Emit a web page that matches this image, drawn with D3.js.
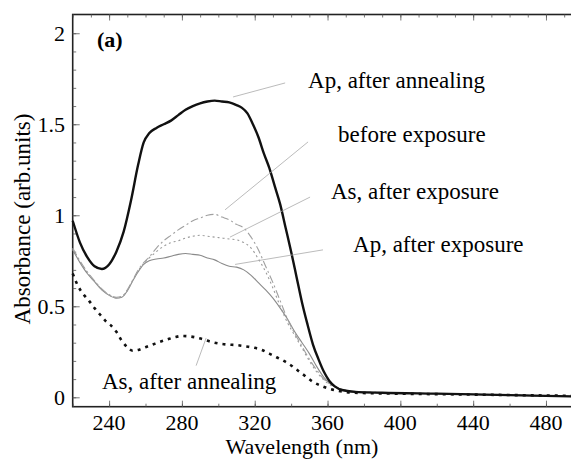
<!DOCTYPE html>
<html>
<head>
<meta charset="utf-8">
<script src="https://cdn.jsdelivr.net/npm/d3@7"></script>
<style>
  body { margin: 0; background: #fff; }
</style>
</head>
<body>
<svg id="chart" width="571" height="459"></svg>
<script>
// -- data -- //
let apAnnealWl = [220, 224, 228, 232, 236, 240, 244, 248, 252, 256, 259, 262, 266, 270, 274, 278, 282, 286, 290, 294, 298, 302, 306, 310, 313, 316, 319, 322, 325, 328, 331, 334, 337, 340, 343, 346, 349, 352, 355, 358, 361, 364, 368, 375, 390, 420, 460, 494];
let apAnnealAbs = [0.97, 0.85, 0.77, 0.72, 0.705, 0.73, 0.80, 0.91, 1.08, 1.28, 1.40, 1.45, 1.48, 1.50, 1.52, 1.55, 1.58, 1.60, 1.615, 1.625, 1.63, 1.625, 1.62, 1.605, 1.59, 1.56, 1.50, 1.43, 1.34, 1.26, 1.16, 1.06, 0.93, 0.80, 0.66, 0.52, 0.40, 0.29, 0.21, 0.14, 0.09, 0.06, 0.04, 0.03, 0.025, 0.02, 0.012, 0.005];

let exposWl = [220, 224, 228, 232, 236, 240, 244, 247, 250, 253, 256, 259, 262, 266, 270, 274, 278, 282, 286, 290, 294, 298, 302, 306, 310, 314, 318, 322, 326, 330, 334, 338, 342, 346, 350, 354, 358, 362, 366, 372, 385, 420, 460, 494];
let beforeAbs = [0.82, 0.75, 0.69, 0.64, 0.595, 0.565, 0.55, 0.555, 0.59, 0.645, 0.70, 0.74, 0.77, 0.82, 0.86, 0.89, 0.92, 0.945, 0.97, 0.985, 1.0, 1.005, 0.99, 0.975, 0.95, 0.93, 0.88, 0.81, 0.72, 0.63, 0.53, 0.43, 0.35, 0.28, 0.21, 0.15, 0.10, 0.07, 0.05, 0.035, 0.028, 0.02, 0.012, 0.005];
let asExposAbs = [0.815, 0.745, 0.685, 0.637, 0.592, 0.562, 0.547, 0.552, 0.588, 0.642, 0.695, 0.735, 0.765, 0.80, 0.83, 0.85, 0.86, 0.875, 0.885, 0.89, 0.885, 0.88, 0.875, 0.87, 0.865, 0.85, 0.82, 0.76, 0.69, 0.60, 0.50, 0.41, 0.34, 0.27, 0.20, 0.14, 0.095, 0.065, 0.05, 0.035, 0.028, 0.02, 0.012, 0.005];
let apExposAbs = [0.81, 0.74, 0.68, 0.635, 0.59, 0.56, 0.545, 0.55, 0.585, 0.64, 0.69, 0.73, 0.75, 0.76, 0.765, 0.775, 0.785, 0.79, 0.785, 0.78, 0.765, 0.755, 0.735, 0.72, 0.715, 0.70, 0.67, 0.63, 0.59, 0.545, 0.49, 0.43, 0.36, 0.30, 0.24, 0.17, 0.11, 0.07, 0.05, 0.035, 0.028, 0.02, 0.012, 0.005];

let asAnnealWl = [220, 223, 226, 229, 232, 235, 238, 241, 244, 247, 250, 253, 256, 260, 264, 268, 272, 276, 280, 284, 288, 292, 296, 300, 305, 310, 315, 320, 324, 328, 332, 336, 340, 344, 348, 352, 356, 360, 366, 375, 400, 440, 494];
let asAnnealAbs = [0.68, 0.61, 0.565, 0.53, 0.49, 0.455, 0.42, 0.395, 0.36, 0.31, 0.275, 0.256, 0.26, 0.275, 0.29, 0.305, 0.318, 0.33, 0.337, 0.335, 0.328, 0.318, 0.305, 0.296, 0.29, 0.287, 0.28, 0.272, 0.26, 0.24, 0.22, 0.20, 0.175, 0.145, 0.115, 0.085, 0.065, 0.05, 0.035, 0.025, 0.02, 0.015, 0.008];

let xTicks = [240, 280, 320, 360, 400, 440, 480];
let yTicks = [0, 0.5, 1, 1.5, 2];
let yTickLabels = ['0', '0.5', '1', '1.5', '2'];

// label text, label anchor (nm, abs), leader line from / to (nm, abs)
let labelNames = ['Ap, after annealing', 'before exposure', 'As, after exposure', 'Ap, after exposure', 'As, after annealing'];
let labelAt = [[349.3, 1.70], [365.8, 1.403], [361.9, 1.09], [374, 0.80], [236.1, 0.046]];
let leaderFrom = [[336.7, 1.727], [349.3, 1.403], [350.4, 1.10], [357.5, 0.81], [287.8, 0.174]];
let leaderTo = [[308.1, 1.65], [303.7, 1.03], [306.4, 0.88], [309.2, 0.73], [293.3, 0.326]];

// -- layout -- //
let svg = d3.select('#chart')
    .style('font-family', "'Liberation Serif', 'Times New Roman', Times, 'DejaVu Serif', serif");
let plotLeft = 72.7, plotRight = 572, plotTop = 14.5, plotBottom = 406.7;

let xScale = d3.scaleLinear().domain([220, 494.3]).range([plotLeft, plotRight]);
let yScale = d3.scaleLinear().domain([-0.0516, 2.103]).range([plotBottom, plotTop]);

// -- frame and ticks -- //
let frame = svg.append('g');
frame.append('rect')
    .attr('x', plotLeft).attr('y', plotTop)
    .attr('width', plotRight - plotLeft).attr('height', plotBottom - plotTop)
    .style('fill', 'none')
    .style('stroke', '#222')
    .style('stroke-width', '1.6');

let xMajor = d3.axisBottom(xScale).tickValues(xTicks).tickSize(-6).tickFormat('');
let xMinor = d3.axisBottom(xScale).tickValues(d3.range(220, 494, 20)).tickSize(-3).tickFormat('');
let xTopMinor = d3.axisTop(xScale).tickValues(d3.range(220, 494, 10)).tickSize(-3).tickFormat('');
let xTopMajor = d3.axisTop(xScale).tickValues(xTicks).tickSize(-6).tickFormat('');
let yMajor = d3.axisLeft(yScale).tickValues(yTicks).tickSize(-7).tickFormat('');
let yMinor = d3.axisLeft(yScale).tickValues(d3.range(0, 2.05, 0.1)).tickSize(-3.5).tickFormat('');

[[xMinor, plotBottom, 'x'], [xMajor, plotBottom, 'x'], [xTopMinor, plotTop, 'x'], [xTopMajor, plotTop, 'x'], [yMinor, plotLeft, 'y'], [yMajor, plotLeft, 'y']]
    .forEach(([ax, pos, kind]) => {
        let g = frame.append('g')
            .attr('transform', kind === 'x' ? `translate(0,${pos})` : `translate(${pos},0)`)
            .call(ax);
        g.select('.domain').remove();
        g.selectAll('line').style('stroke', '#555').style('stroke-width', '0.8');
    });

// -- tick labels -- //
svg.selectAll('.xlab')
    .data(xTicks)
    .enter().append('text')
    .attr('class', 'xlab')
    .attr('x', d => xScale(d))
    .attr('y', 430)
    .attr('text-anchor', 'middle')
    .style('font-size', '22px')
    .text(d => d);

svg.selectAll('.ylab')
    .data(yTicks)
    .enter().append('text')
    .attr('class', 'ylab')
    .attr('x', 65)
    .attr('y', d => yScale(d))
    .attr('dy', '0.34em')
    .attr('text-anchor', 'end')
    .style('font-size', '22px')
    .text((d, i) => yTickLabels[i]);

// -- axis titles -- //
svg.append('text')
    .attr('x', 302).attr('y', 454)
    .attr('text-anchor', 'middle')
    .style('font-size', '22px')
    .text('Wavelength (nm)');

svg.append('text')
    .attr('transform', 'translate(30,219) rotate(-90)')
    .attr('text-anchor', 'middle')
    .style('font-size', '23px')
    .text('Absorbance (arb.units)');

svg.append('text')
    .attr('x', 97).attr('y', 47)
    .style('font-size', '22px')
    .style('font-weight', 'bold')
    .text('(a)');

// -- curves -- //
let line = d3.line()
    .x(d => xScale(d[0]))
    .y(d => yScale(d[1]))
    .curve(d3.curveMonotoneX);

let series = [
    { wl: exposWl, abs: apExposAbs, color: '#8a8a8a', width: 1.1, dash: null },
    { wl: exposWl, abs: asExposAbs, color: '#9a9a9a', width: 1.1, dash: '2,3' },
    { wl: exposWl, abs: beforeAbs, color: '#a0a0a0', width: 1.1, dash: '8,3,2,3' },
    { wl: asAnnealWl, abs: asAnnealAbs, color: '#111', width: 2.6, dash: '3,5' },
    { wl: apAnnealWl, abs: apAnnealAbs, color: '#111', width: 2.4, dash: null }
];

let plotLayer = svg.append('g');
plotLayer.selectAll('.curve')
    .data(series)
    .enter().append('path')
    .attr('class', 'curve')
    .attr('d', s => line(s.wl.map((w, i) => [w, s.abs[i]])))
    .style('fill', 'none')
    .style('stroke', s => s.color)
    .style('stroke-width', s => s.width)
    .style('stroke-dasharray', s => s.dash);

// -- annotations -- //
plotLayer.selectAll('.leader')
    .data(labelNames)
    .enter().append('line')
    .attr('class', 'leader')
    .attr('x1', (d, i) => xScale(leaderFrom[i][0]))
    .attr('y1', (d, i) => yScale(leaderFrom[i][1]))
    .attr('x2', (d, i) => xScale(leaderTo[i][0]))
    .attr('y2', (d, i) => yScale(leaderTo[i][1]))
    .style('stroke', '#aaa')
    .style('stroke-width', '0.8');

svg.selectAll('.note')
    .data(labelNames)
    .enter().append('text')
    .attr('class', 'note')
    .attr('x', (d, i) => xScale(labelAt[i][0]))
    .attr('y', (d, i) => yScale(labelAt[i][1]))
    .style('font-size', '23px')
    .text(d => d);
</script>
</body>
</html>
